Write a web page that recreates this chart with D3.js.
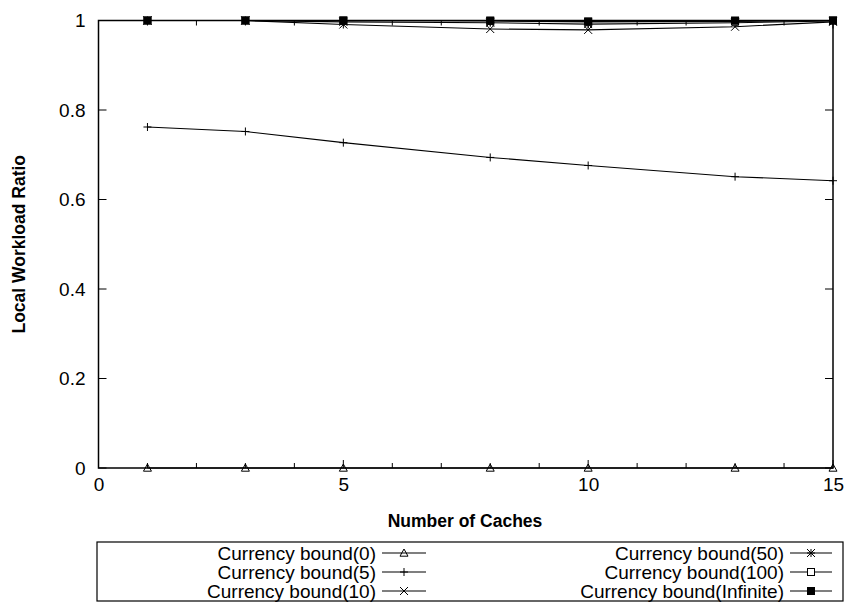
<!DOCTYPE html>
<html>
<head>
<meta charset="utf-8">
<script src="https://cdn.jsdelivr.net/npm/d3@7"></script>
<style>
  body { margin: 0; background: #fff; }
  svg { display: block; font-family: "Liberation Sans", Arial, Helvetica, sans-serif; }
</style>
</head>
<body>
<svg id="chart" width="849" height="602"></svg>
<script>
// Number of caches on the x axis
const caches = [1, 3, 5, 8, 10, 13, 15];

// Local workload ratio for each currency bound
const bound0   = [0, 0, 0, 0, 0, 0, 0];
const bound5   = [0.762, 0.752, 0.727, 0.694, 0.676, 0.651, 0.642];
const bound10  = [1.0, 1.0, 0.991, 0.981, 0.979, 0.986, 0.997];
const bound50  = [1.0, 1.0, 0.997, 0.995, 0.992, 0.995, 0.999];
const bound100 = [1.0, 1.0, 1.0, 0.999, 0.997, 0.998, 1.0];
const boundInf = [1.0, 1.0, 1.0, 1.0, 0.998, 1.0, 1.0];

const seriesNames = ["Currency bound(0)", "Currency bound(5)", "Currency bound(10)",
                     "Currency bound(50)", "Currency bound(100)", "Currency bound(Infinite)"];
const seriesValues = [bound0, bound5, bound10, bound50, bound100, boundInf];
const seriesMarkers = ["triangle", "plus", "cross", "star", "square", "filledSquare"];

const xTickValues = [0, 5, 10, 15];
const xMinorTicks = d3.range(0, 16, 1);
const yTickValues = [0, 0.2, 0.4, 0.6, 0.8, 1];

const svg = d3.select("#chart");
const L = 98.5, R = 833, T = 20.5, B = 468;

const x = d3.scaleLinear().domain([0, 15]).range([L, R]);
const y = d3.scaleLinear().domain([0, 1]).range([B, T]);

// Tick marks pointing inward on all four sides
const g = svg.append("g");
xMinorTicks.forEach(v => {
  const len = xTickValues.includes(v) ? 8 : 5;
  g.append("line").attr("x1", x(v)).attr("x2", x(v)).attr("y1", B).attr("y2", B - len)
    .attr("stroke", "#000").attr("stroke-width", 1);
  g.append("line").attr("x1", x(v)).attr("x2", x(v)).attr("y1", T).attr("y2", T + len)
    .attr("stroke", "#000").attr("stroke-width", 1);
});
yTickValues.forEach(v => {
  g.append("line").attr("x1", L).attr("x2", L + 8).attr("y1", y(v)).attr("y2", y(v))
    .attr("stroke", "#000").attr("stroke-width", 1);
  g.append("line").attr("x1", R).attr("x2", R - 8).attr("y1", y(v)).attr("y2", y(v))
    .attr("stroke", "#000").attr("stroke-width", 1);
});

// Tick labels via d3 axes (tick lines hidden, labels kept)
const xAxis = d3.axisBottom(x).tickValues(xTickValues).tickSize(0).tickPadding(10).tickFormat(d3.format("d"));
svg.append("g").attr("transform", `translate(0,${B})`).call(xAxis)
  .call(s => s.select(".domain").remove())
  .selectAll("text").attr("font-size", 19).attr("font-family", "Liberation Sans, Arial, sans-serif").attr("fill", "#000");

const yAxis = d3.axisLeft(y).tickValues(yTickValues).tickSize(0).tickPadding(13)
  .tickFormat(d => d === 0 || d === 1 ? d3.format("d")(d) : d3.format(".1f")(d));
svg.append("g").attr("transform", `translate(${L},0)`).call(yAxis)
  .call(s => s.select(".domain").remove())
  .selectAll("text").attr("font-size", 19).attr("font-family", "Liberation Sans, Arial, sans-serif").attr("fill", "#000");

// Plot frame
svg.append("rect").attr("x", L).attr("y", T).attr("width", R - L).attr("height", B - T)
  .attr("fill", "none").attr("stroke", "#000").attr("stroke-width", 1.5);

// Axis titles
svg.append("text").attr("x", 465).attr("y", 527).attr("text-anchor", "middle")
  .attr("font-size", 17.5).attr("font-weight", "bold").text("Number of Caches");
svg.append("text").attr("transform", `translate(25,${(T + B) / 2}) rotate(-90)`)
  .attr("text-anchor", "middle").attr("font-size", 17.5).attr("font-weight", "bold")
  .text("Local Workload Ratio");

// Marker drawing
function drawMarker(sel, type, cx, cy) {
  const s = 4;
  const st = { stroke: "#000", "stroke-width": 1, fill: "none" };
  const apply = (el, o) => { Object.entries(o).forEach(([k, v]) => el.attr(k, v)); return el; };
  if (type === "triangle") {
    apply(sel.append("path").attr("d", `M${cx},${cy - s} L${cx + s},${cy + s * 0.8} L${cx - s},${cy + s * 0.8} Z`), st);
  } else if (type === "plus") {
    apply(sel.append("path").attr("d", `M${cx - s},${cy} H${cx + s} M${cx},${cy - s} V${cy + s}`), st);
  } else if (type === "cross") {
    apply(sel.append("path").attr("d", `M${cx - s},${cy - s} L${cx + s},${cy + s} M${cx - s},${cy + s} L${cx + s},${cy - s}`), st);
  } else if (type === "star") {
    apply(sel.append("path").attr("d", `M${cx - s},${cy - s} L${cx + s},${cy + s} M${cx - s},${cy + s} L${cx + s},${cy - s} M${cx - s},${cy} H${cx + s} M${cx},${cy - s} V${cy + s}`), st);
  } else if (type === "square") {
    apply(sel.append("rect").attr("x", cx - s + 0.5).attr("y", cy - s + 0.5).attr("width", 2 * s - 1).attr("height", 2 * s - 1).attr("fill", "#fff"), { stroke: "#000", "stroke-width": 1 });
  } else if (type === "filledSquare") {
    sel.append("rect").attr("x", cx - s).attr("y", cy - s).attr("width", 2 * s).attr("height", 2 * s).attr("fill", "#000");
  }
}

// Series lines and markers
const line = d3.line().x((d, i) => x(caches[i])).y(d => y(d));
seriesValues.forEach((vals, k) => {
  const sg = svg.append("g");
  sg.append("path").datum(vals).attr("d", line).attr("fill", "none")
    .attr("stroke", "#000").attr("stroke-width", 1.1);
  vals.forEach((v, i) => drawMarker(sg, seriesMarkers[k], x(caches[i]), y(v)));
});

// Legend
const lg = svg.append("g");
lg.append("rect").attr("x", 97).attr("y", 542).attr("width", 746).attr("height", 59)
  .attr("fill", "none").attr("stroke", "#000").attr("stroke-width", 1.2);
const colTextRight = [376, 784];
const colSample = [[382, 426], [790, 832]];
seriesNames.forEach((name, k) => {
  const col = Math.floor(k / 3), row = k % 3;
  const cy = 553 + row * 19;
  lg.append("text").attr("x", colTextRight[col]).attr("y", cy + 6.5).attr("text-anchor", "end")
    .attr("font-size", 19).text(name);
  const [a, b] = colSample[col];
  lg.append("line").attr("x1", a).attr("x2", b).attr("y1", cy).attr("y2", cy)
    .attr("stroke", "#000").attr("stroke-width", 1.1);
  drawMarker(lg, seriesMarkers[k], (a + b) / 2, cy);
});
</script>
</body>
</html>
